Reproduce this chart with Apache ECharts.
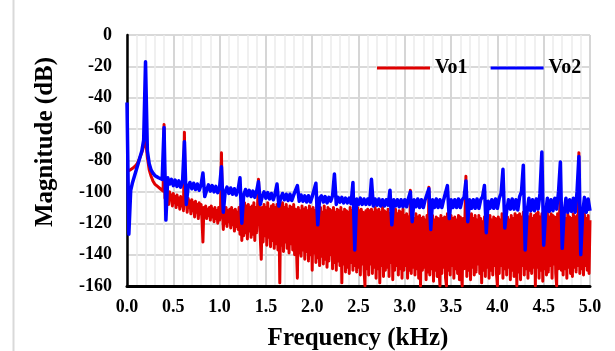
<!DOCTYPE html>
<html>
<head>
<meta charset="utf-8">
<title>Output voltage spectrum</title>
<script src="https://cdn.jsdelivr.net/npm/echarts@6/dist/echarts.min.js"></script>
<style>
  html, body { margin: 0; padding: 0; background: #ffffff; }
  #chart { width: 615px; height: 351px; }
</style>
</head>
<body>
<div id="chart"></div>
<script>
// FFT bin spacing of each spectrum (kHz)
const VO1_BIN_KHZ = 0.01;
const VO2_BIN_KHZ = 0.02;

// Vo1 magnitude (dB), one value per 0.01 kHz bin, rows of 0.2 kHz
const vo1 = [
  -87, -86.8, -86.5, -86.2, -86, -85.5, -85, -84.5, -84, -83.5, -83, -82, -81, -79.5, -78, -76.5, -75, -73, -71, -68.5,                // 0.0
  -66, -72, -78, -82, -86, -88, -90, -91.5, -93, -94, -95, -95.5, -96, -96.5, -97, -97.5, -98, -98.5, -99, -99.5,                      // 0.2
  -57, -104, -100, -106, -101, -108, -100, -105, -102, -109, -101, -107, -103, -110, -102, -108, -104, -111, -103, -109,               // 0.4
  -104, -112, -62, -108, -105, -113, -104, -110, -106, -114, -105, -112, -107, -116, -106, -113, -108, -117, -107, -114,               // 0.6
  -108, -118, -132, -110, -116, -109, -117, -111, -115, -110, -118, -109, -116, -111, -119, -110, -117, -112, -120, -110,              // 0.8
  -118, -111, -75, -112, -124, -111, -120, -110, -122, -112, -119, -111, -123, -110, -121, -112, -125, -111, -122, -113,               // 1.0
  -124, -110, -127, -108, -131, -111, -128, -107, -126, -109, -130, -108, -125, -110, -129, -109, -127, -107, -131, -110,              // 1.2
  -126, -109, -92, -112, -130, -143, -110, -132, -108, -128, -110, -134, -107, -129, -111, -135, -109, -131, -108, -136,               // 1.4
  -110, -133, -108, -137, -110, -158, -109, -134, -107, -138, -110, -132, -108, -136, -111, -139, -109, -133, -110, -137,              // 1.6
  -108, -140, -111, -136, -155, -110, -139, -112, -141, -109, -137, -111, -143, -110, -138, -112, -144, -109, -140, -111,              // 1.8
  -150, -110, -139, -112, -145, -109, -142, -111, -147, -110, -141, -113, -146, -109, -143, -112, -148, -110, -144, -111,              // 2.0
  -140, -112, -149, -110, -145, -113, -150, -111, -144, -112, -147, -110, -158, -113, -146, -111, -151, -112, -148, -113,              // 2.2
  -152, -110, -145, -112, -150, -111, -147, -113, -151, -110, -148, -112, -153, -111, -146, -113, -150, -160, -112, -149,              // 2.4
  -111, -153, -112, -146, -111, -152, -113, -148, -110, -155, -112, -149, -111, -158, -113, -147, -110, -154, -112, -150,              // 2.6
  -113, -148, -111, -154, -114, -145, -112, -156, -113, -150, -111, -147, -114, -153, -112, -149, -113, -155, -111, -150,              // 2.8
  -115, -147, -114, -155, -116, -150, -99, -152, -115, -148, -117, -153, -114, -149, -116, -155, -115, -160, -117, -150,               // 3.0
  -116, -148, -118, -156, -115, -151, -97, -153, -117, -149, -115, -157, -118, -150, -116, -154, -117, -151, -160, -115,               // 3.2
  -152, -117, -148, -116, -155, -160, -114, -150, -118, -153, -115, -147, -117, -155, -116, -149, -118, -152, -115, -156,              // 3.4
  -116, -151, -160, -117, -149, -115, -90, -154, -118, -150, -116, -156, -114, -148, -117, -153, -115, -151, -118, -146,               // 3.6
  -115, -152, -117, -158, -119, -150, -116, -154, -114, -148, -117, -155, -115, -150, -118, -153, -116, -147, -117, -152,              // 3.8
  -160, -116, -152, -118, -147, -114, -155, -117, -149, -115, -153, -116, -148, -118, -156, -115, -150, -117, -154, -114,              // 4.0
  -118, -160, -115, -151, -114, -156, -116, -147, -113, -153, -117, -149, -115, -155, -116, -150, -114, -152, -117, -148,              // 4.2
  -115, -160, -114, -148, -113, -155, -116, -150, -114, -157, -117, -149, -115, -153, -113, -151, -116, -147, -114, -155,              // 4.4
  -115, -146, -116, -152, -160, -114, -149, -116, -100, -150, -115, -153, -113, -149, -117, -155, -114, -148, -116, -152,              // 4.6
  -117, -154, -114, -148, -116, -151, -115, -147, -75, -152, -115, -149, -116, -153, -114, -147, -117, -150, -115, -152,               // 4.8
  -118                                                                                                                                  // 5.0
];

// Vo2 magnitude (dB), one value per 0.02 kHz bin, rows of 0.2 kHz
const vo2 = [
  -43, -127, -99, -94, -90, -86, -82, -78, -74, -67,                   // 0.0
  -17, -74, -82, -86, -88, -89.5, -90.5, -91, -91.5, -92,              // 0.2
  -59, -118, -91, -95, -92, -96, -92.5, -96.5, -93, -97,               // 0.4
  -93.5, -68, -108, -97, -94, -98, -94.5, -98.5, -95, -99,             // 0.6
  -95.5, -88, -103, -99, -95.5, -99.5, -96, -100, -96.5, -100.5,       // 0.8
  -97, -84, -113, -100, -97, -101, -97.5, -101.5, -98, -102,           // 1.0
  -98.5, -91, -120, -102, -98.5, -102.5, -99, -103, -99.5, -103.5,     // 1.2
  -99.5, -93.5, -108, -103, -100, -104, -100.5, -104.5, -101, -105,    // 1.4
  -101, -95, -109, -104, -101, -105, -101.5, -105.5, -101.5, -105.5,   // 1.6
  -102, -101, -96, -106, -102, -106, -102.5, -106.5, -102.5, -106.5,   // 1.8
  -103, -102, -94.5, -121, -104, -102.5, -106.5, -103, -107, -103.5,   // 2.0
  -106, -102.5, -88.6, -108, -103.5, -106.5, -103.5, -107, -104, -107, // 2.2
  -104, -107.5, -94, -137, -104.5, -108, -104, -108, -104.5, -108,     // 2.4
  -104.5, -108, -92, -109, -104.5, -108.5, -104.5, -109, -105, -109,   // 2.6
  -105, -108.5, -99, -121, -105, -109, -105, -109.5, -105, -109.5,     // 2.8
  -105, -109.5, -104, -100, -119, -105, -109.5, -104.5, -110, -105,    // 3.0
  -110, -105, -104, -98, -124, -105, -110, -104.5, -110, -105,         // 3.2
  -110, -105, -104, -96, -117, -105, -110, -105, -110, -104.5,         // 3.4
  -110, -105, -103.5, -93, -119, -105, -110.5, -105, -110.5, -104.5,   // 3.6
  -110.5, -105, -103, -96, -126, -106, -110.5, -105, -110.5, -104.5,   // 3.8
  -110.5, -104, -101, -85.6, -123, -112, -105, -111, -104.5, -111,     // 4.0
  -105, -111.5, -103, -100, -83, -137, -113, -104, -112, -105,         // 4.2
  -112, -104.5, -111, -101, -74.6, -134, -114, -104, -112.5, -105,     // 4.4
  -112, -104, -111, -100, -81, -136, -114, -104, -113, -105,           // 4.6
  -112.5, -104, -113, -100, -77.5, -140, -114, -103.5, -113, -104.5,   // 4.8
  -112                                                                 // 5.0
];

const seriesNames = ['Vo1', 'Vo2'];
const seriesColors = ['#e00000', '#0000ff'];

const FONT = '"Liberation Serif", "Times New Roman", serif';

const toPoints = (vals, bin) => vals.map((v, i) => [+(i * bin).toFixed(2), v]);

const chart = echarts.init(document.getElementById('chart'), null, { renderer: 'canvas' });

chart.setOption({
  animation: false,
  backgroundColor: '#ffffff',
  grid: { left: 127, right: 25, top: 35, bottom: 65, containLabel: false },
  legend: {
    left: 372,
    top: 53,
    itemWidth: 53,
    itemHeight: 3,
    itemGap: 23,
    icon: 'rect',
    data: seriesNames,
    textStyle: { fontFamily: FONT, fontWeight: 'bold', fontSize: 20, color: '#000', lineHeight: 20 }
  },
  xAxis: {
    type: 'value',
    min: 0,
    max: 5,
    interval: 0.5,
    axisLine: { show: true, onZero: false, lineStyle: { color: '#000', width: 3 } },
    axisTick: { show: false },
    minorTick: { show: false, splitNumber: 5 },
    minorSplitLine: { show: true, lineStyle: { color: '#ebebeb', width: 1.5 } },
    splitLine: { show: true, lineStyle: { color: '#d6d6d6', width: 2 } },
    axisLabel: {
      margin: 12,
      fontFamily: FONT, fontWeight: 'bold', fontSize: 18, color: '#000',
      formatter: (v) => v.toFixed(1)
    }
  },
  yAxis: {
    type: 'value',
    min: -160,
    max: 0,
    interval: 20,
    axisLine: { show: true, onZero: false, lineStyle: { color: '#000', width: 2.5 } },
    axisTick: { show: false },
    splitLine: { show: true, lineStyle: { color: '#d9d9d9', width: 2 } },
    axisLabel: {
      margin: 15,
      fontFamily: FONT, fontWeight: 'bold', fontSize: 18, color: '#000'
    }
  },
  graphic: [
    {
      type: 'line',
      shape: { x1: 13.5, y1: 0, x2: 13.5, y2: 351 },
      style: { stroke: '#d9d9d9', lineWidth: 2 },
      silent: true
    },
    {
      type: 'text',
      x: 46, y: 142,
      rotation: Math.PI / 2,
      style: {
        text: 'Magnitude (dB)',
        fontFamily: FONT, fontWeight: 'bold', fontSize: 25, fill: '#000',
        align: 'center', verticalAlign: 'middle'
      }
    },
    {
      type: 'text',
      x: 358, y: 339,
      style: {
        text: 'Frequency (kHz)',
        fontFamily: FONT, fontWeight: 'bold', fontSize: 25, fill: '#000',
        align: 'center', verticalAlign: 'middle'
      }
    }
  ],
  series: [
    {
      name: seriesNames[0],
      type: 'line',
      data: toPoints(vo1, VO1_BIN_KHZ),
      showSymbol: false,
      color: seriesColors[0],
      lineStyle: { width: 3, color: seriesColors[0], join: 'round' },
      z: 2
    },
    {
      name: seriesNames[1],
      type: 'line',
      data: toPoints(vo2, VO2_BIN_KHZ),
      showSymbol: false,
      color: seriesColors[1],
      lineStyle: { width: 3.5, color: seriesColors[1], join: 'round' },
      z: 3
    }
  ]
});
</script>
</body>
</html>
